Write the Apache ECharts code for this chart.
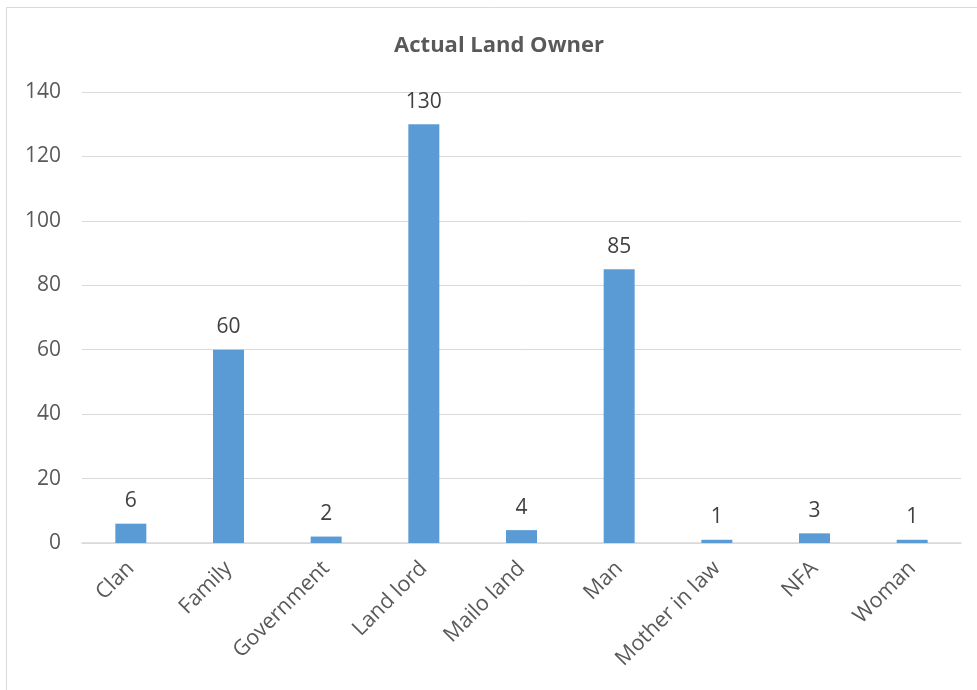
<!DOCTYPE html>
<html>
<head>
<meta charset="utf-8">
<script src="https://cdn.jsdelivr.net/npm/echarts@6/dist/echarts.min.js"></script>
<style>
  html, body { margin: 0; padding: 0; background: #ffffff; }
  #chart { width: 977px; height: 690px; }
</style>
</head>
<body>
<div id="chart"></div>
<script>
// Land ownership counts by owner type
const categories = ['Clan', 'Family', 'Government', 'Land lord', 'Mailo land', 'Man', 'Mother in law', 'NFA', 'Woman'];
const counts = [6, 60, 2, 130, 4, 85, 1, 3, 1];
const yTicks = { min: 0, max: 140, step: 20 };

const FONT = '"Open Sans", "Liberation Sans", sans-serif';
const chart = echarts.init(document.getElementById('chart'), null, { renderer: 'canvas' });

chart.setOption({
  backgroundColor: '#ffffff',
  animation: false,
  graphic: [{
    type: 'rect',
    shape: { x: 6.5, y: 7.5, width: 1200, height: 1200 },
    style: { fill: 'none', stroke: '#d9d9d9', lineWidth: 1 },
    silent: true
  }],
  title: {
    text: 'Actual Land Owner',
    left: 494,
    top: 30,
    textAlign: 'center',
    textStyle: { fontFamily: FONT, fontSize: 22, fontWeight: 'bold', color: '#595959' }
  },
  grid: { left: 82, right: 16, top: 92, bottom: 147, containLabel: false },
  xAxis: {
    type: 'category',
    data: categories,
    axisLine: { lineStyle: { color: '#d9d9d9', width: 1.5 } },
    axisTick: { show: false },
    axisLabel: {
      rotate: 45,
      interval: 0,
      margin: 22,
      fontFamily: FONT,
      fontSize: 21.5,
      color: '#595959'
    }
  },
  yAxis: {
    type: 'value',
    min: yTicks.min,
    max: yTicks.max,
    interval: yTicks.step,
    axisLine: { show: false },
    axisTick: { show: false },
    splitLine: { lineStyle: { color: '#d9d9d9', width: 1 } },
    axisLabel: { margin: 21, fontFamily: FONT, fontSize: 21, color: '#595959' }
  },
  series: [{
    type: 'bar',
    data: counts,
    barWidth: 31,
    itemStyle: { color: '#5b9bd5' },
    label: {
      show: true,
      position: 'top',
      distance: 12,
      fontFamily: FONT,
      fontSize: 21,
      color: '#404040'
    }
  }]
});
</script>
</body>
</html>
